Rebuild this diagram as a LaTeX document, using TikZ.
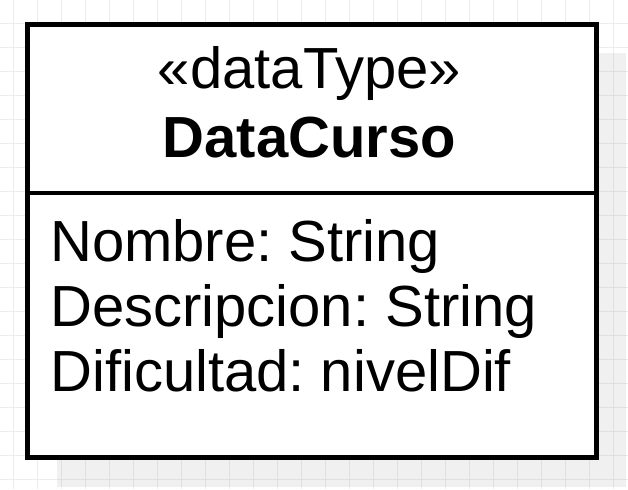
\documentclass[tikz,border=0pt]{standalone}
\usepackage{fontspec}
\setmainfont{Liberation Sans}
\frenchspacing
\begin{document}
\begin{tikzpicture}[x=0.75pt,y=-0.75pt,
  gridline/.style={draw=black!7,line width=0.75pt},
  shadowbox/.style={fill=black,fill opacity=0.06,draw=none},
  classbox/.style={draw=black,fill=white,line width=3.4pt},
  divider/.style={draw=black,line width=3pt},
  txt/.style={font=\frenchspacing\fontsize{43.5pt}{48.75pt}\selectfont,inner sep=0pt}]
\fill[white] (0,0) rectangle (628,489);
\useasboundingbox (0,0) rectangle (628,489);
\foreach \i in {0,...,26} {\draw[gridline] (13.5+24*\i,0) -- (13.5+24*\i,489);}
\foreach \j in {0,...,20} {\draw[gridline] (0,-1+24*\j) -- (628,-1+24*\j);}
\fill[shadowbox] (57,53) rectangle (626,487);
\node[classbox,minimum width=569*0.75pt,minimum height=433*0.75pt,anchor=north west,inner sep=0pt] (cls) at (25,22) {};
\coordinate (dl) at (25,193);
\coordinate (dr) at (594,193);
\draw[divider] (dl) -- (dr);
\node[txt,anchor=base] (st) at (309.5,88) {«dataType»};
\node[txt,anchor=base,font=\frenchspacing\fontsize{43.5pt}{48.75pt}\selectfont\bfseries] (nm) at (309.5,157) {DataCurso};
\node[txt,anchor=base west] (a1) at (50,261) {Nombre: String};
\node[txt,anchor=base west] (a2) at (50,326) {Descripcion: String};
\node[txt,anchor=base west] (a3) at (50,391) {Dificultad: nivelDif};
\end{tikzpicture}
\end{document}
